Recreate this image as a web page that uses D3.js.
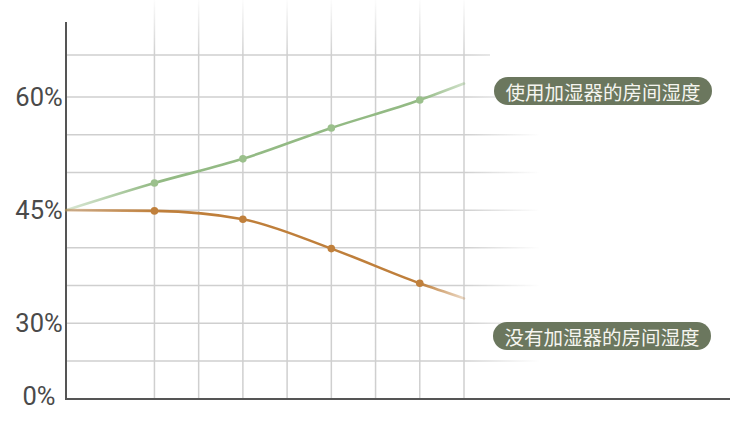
<!DOCTYPE html>
<html>
<head>
  <meta charset="UTF-8">
  <title>房间湿度</title>
  <style>
    body { margin: 0; background: #ffffff; }
    svg { display: block; }
    .tick-label { font-family: Roboto, "Liberation Sans", sans-serif; font-size: 25.5px; font-weight: 400; fill: #4a4a4a; }
    .tag-text { font-family: "Noto Sans CJK SC", sans-serif; font-size: 19.5px; fill: #f5f5ef; }
  </style>
</head>
<body>
<svg></svg>

<script src="https://d3js.org/d3.v7.min.js"></script>
<script>

let width = 730, height = 428;

// data (x = step index, 4.5 = faded tail)
const steps = [0, 1, 2, 3, 4, 4.5];
const withHumidifier = [45, 48.6, 51.8, 55.9, 59.6, 61.6];
const withoutHumidifier = [45, 44.9, 43.8, 39.9, 35.3, 33.3];
const markedSteps = [1, 2, 3, 4];

const seriesNames = ["使用加湿器的房间湿度", "没有加湿器的房间湿度"];

const yTicks = [0, 30, 45, 60];
const yTickLabels = ["0%", "30%", "45%", "60%"];
const gridY = [25, 30, 35, 40, 45, 50, 55, 60, 65];
const gridX = [1, 1.5, 2, 2.5, 3, 3.5, 4, 4.5];

let svg = d3.select("svg")
    .attr("width", width)
    .attr("height", height);

// x: steps, y: broken axis (0 squeezed below 25)
const x = d3.scaleLinear().domain([0, 4.5]).range([66, 464]);
const y = d3.scaleLinear().domain([0, 25, 60, 65]).range([399, 361, 97, 55]);

let defs = svg.append("defs");

// fades for the grid
let hFade = defs.append("linearGradient")
    .attr("id", "hfade").attr("gradientUnits", "userSpaceOnUse")
    .attr("x1", x(4.5)).attr("x2", 540).attr("y1", 0).attr("y2", 0);
hFade.append("stop").attr("offset", 0).attr("stop-color", "#cfcfcf").attr("stop-opacity", 1);
hFade.append("stop").attr("offset", 1).attr("stop-color", "#cfcfcf").attr("stop-opacity", 0);

let vFade = defs.append("linearGradient")
    .attr("id", "vfade").attr("gradientUnits", "userSpaceOnUse")
    .attr("x1", 0).attr("x2", 0).attr("y1", y(65)).attr("y2", 0);
vFade.append("stop").attr("offset", 0).attr("stop-color", "#cfcfcf").attr("stop-opacity", 1);
vFade.append("stop").attr("offset", 1).attr("stop-color", "#cfcfcf").attr("stop-opacity", 0.05);

// line gradients: faded at start and tail
function lineGradient(id, color, startOpacity, endOpacity) {
  let g = defs.append("linearGradient")
      .attr("id", id).attr("gradientUnits", "userSpaceOnUse")
      .attr("x1", x(0)).attr("x2", x(4.5)).attr("y1", 0).attr("y2", 0);
  let span = x(4.5) - x(0);
  g.append("stop").attr("offset", 0).attr("stop-color", color).attr("stop-opacity", startOpacity);
  g.append("stop").attr("offset", (x(1) - x(0)) / span).attr("stop-color", color).attr("stop-opacity", 1);
  g.append("stop").attr("offset", (x(4) - x(0)) / span).attr("stop-color", color).attr("stop-opacity", 1);
  g.append("stop").attr("offset", 1).attr("stop-color", color).attr("stop-opacity", endOpacity);
}
lineGradient("greenline", "#93ba84", 0.35, 0.45);
lineGradient("orangeline", "#bf7f3b", 0.45, 0.3);

// horizontal grid
svg.append("g")
  .selectAll("line")
  .data(gridY)
  .enter()
  .append("line")
    .attr("x1", x(0)).attr("x2", d => d == 65 ? 490 : 540)
    .attr("y1", d => y(d)).attr("y2", d => y(d))
    .attr("stroke", "url(#hfade)")
    .attr("stroke-width", 1.5);

// vertical grid
svg.append("g")
  .selectAll("line")
  .data(gridX)
  .enter()
  .append("line")
    .attr("x1", d => x(d)).attr("x2", d => x(d))
    .attr("y1", 0).attr("y2", y(0))
    .attr("stroke", "url(#vfade)")
    .attr("stroke-width", 1.5);

// axes
svg.append("line")
  .attr("x1", x(0)).attr("x2", x(0))
  .attr("y1", 22).attr("y2", y(0) + 1)
  .attr("stroke", "#555").attr("stroke-width", 2);
svg.append("line")
  .attr("x1", x(0) - 1).attr("x2", 730)
  .attr("y1", y(0)).attr("y2", y(0))
  .attr("stroke", "#555").attr("stroke-width", 2);

// y tick labels
svg.append("g")
  .selectAll("text")
  .data(yTicks)
  .enter()
  .append("text")
    .attr("class", "tick-label")
    .attr("x", 39)
    .attr("y", (d, i) => y(d) + (i == 0 ? -3 : 0))
    .attr("text-anchor", "middle")
    .attr("dominant-baseline", "central")
    .text((d, i) => yTickLabels[i]);

// lines + markers
const series = [
  { values: withHumidifier, stroke: "url(#greenline)", dot: "#9bc08c" },
  { values: withoutHumidifier, stroke: "url(#orangeline)", dot: "#c0803c" }
];

let line = d3.line()
  .x(d => x(d[0]))
  .y(d => y(d[1]))
  .curve(d3.curveMonotoneX);

series.forEach(s => {
  let pts = steps.map((st, i) => [st, s.values[i]]);
  svg.append("path")
    .attr("d", line(pts))
    .attr("fill", "none")
    .attr("stroke", s.stroke)
    .attr("stroke-width", 2.6)
    .attr("stroke-linecap", "round");
  svg.append("g")
    .selectAll("circle")
    .data(pts.filter(p => markedSteps.includes(p[0])))
    .enter()
    .append("circle")
      .attr("cx", d => x(d[0]))
      .attr("cy", d => y(d[1]))
      .attr("r", 3.8)
      .attr("fill", s.dot);
});

// series tags
const tags = [
  { name: seriesNames[0], x: 494, y: 77 },
  { name: seriesNames[1], x: 493, y: 322 }
];
tags.forEach(t => {
  svg.append("rect")
    .attr("x", t.x).attr("y", t.y)
    .attr("width", 218).attr("height", 28)
    .attr("rx", 14).attr("ry", 14)
    .attr("fill", "#6b775e");
  svg.append("text")
    .attr("class", "tag-text")
    .attr("x", t.x + 109)
    .attr("y", t.y + 14.5)
    .attr("text-anchor", "middle")
    .attr("dominant-baseline", "central")
    .text(t.name);
});

</script>
</body>
</html>
